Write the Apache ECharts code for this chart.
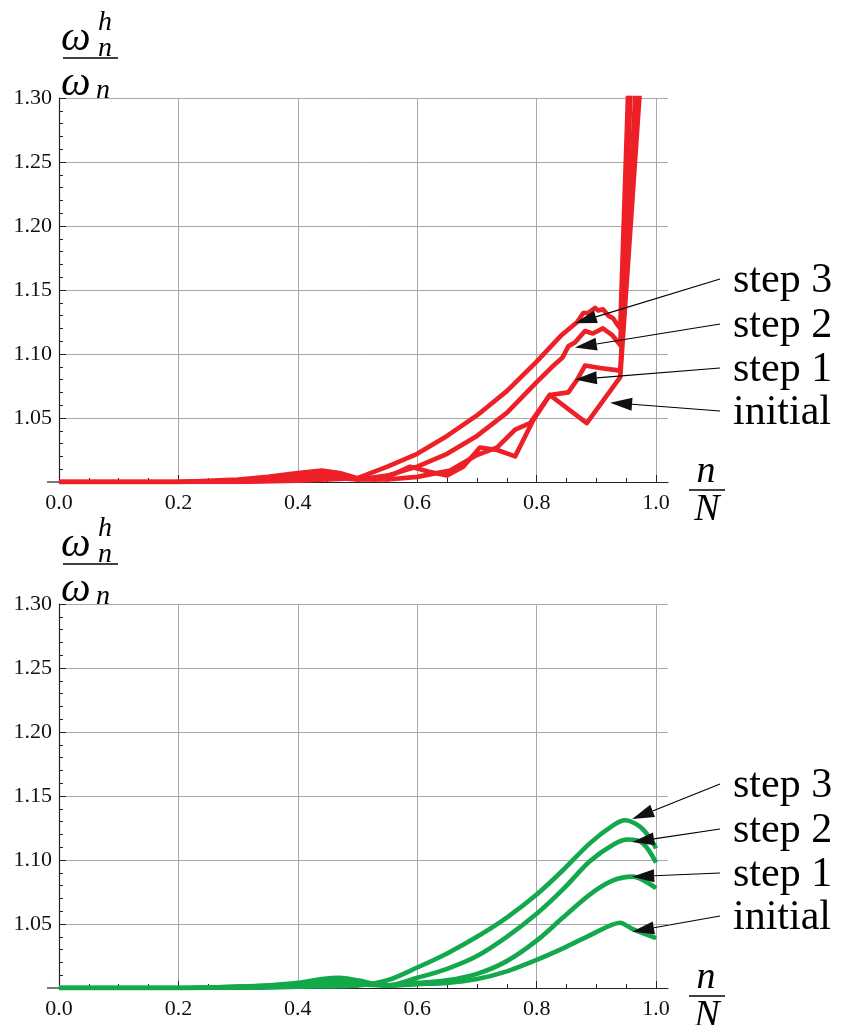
<!DOCTYPE html>
<html>
<head>
<meta charset="utf-8">
<script src="https://cdn.jsdelivr.net/npm/echarts@6/dist/echarts.min.js"></script>
<style>
html, body { margin: 0; padding: 0; background: #fff; }
#chart { width: 842px; height: 1025px; }
</style>
</head>
<body>
<div id="chart"></div>
<script>
// tick labels
var xTicks = [0, 0.2, 0.4, 0.6, 0.8, 1.0];
var labelNames = ['step 3', 'step 2', 'step 1', 'initial'];

// top panel (red), points are [n/N, omega_h/omega]
var redInitial = [[0,1.000],[0.1,1.000],[0.2,1.000],[0.25,1.001],[0.3,1.002],[0.35,1.004],[0.4,1.007],[0.44,1.009],[0.47,1.007],[0.5,1.003],[0.53,1.002],[0.56,1.006],[0.588,1.012],[0.62,1.008],[0.65,1.005],[0.677,1.012],[0.705,1.027],[0.734,1.025],[0.764,1.020],[0.794,1.048],[0.822,1.068],[0.884,1.046],[0.94,1.082],[0.98,1.354]];
var redStep1 = [[0,1.000],[0.1,1.000],[0.2,1.000],[0.3,1.001],[0.35,1.003],[0.4,1.005],[0.44,1.006],[0.47,1.005],[0.5,1.002],[0.55,1.002],[0.6,1.004],[0.655,1.009],[0.70,1.021],[0.734,1.027],[0.764,1.041],[0.789,1.046],[0.822,1.068],[0.853,1.070],[0.868,1.080],[0.881,1.091],[0.906,1.089],[0.94,1.087],[0.97,1.342]];
var redStep2 = [[0,1.000],[0.2,1.000],[0.3,1.001],[0.35,1.002],[0.4,1.003],[0.44,1.004],[0.47,1.003],[0.5,1.002],[0.55,1.005],[0.6,1.012],[0.65,1.022],[0.7,1.036],[0.75,1.054],[0.8,1.078],[0.826,1.090],[0.843,1.097],[0.853,1.106],[0.864,1.109],[0.881,1.118],[0.894,1.116],[0.911,1.120],[0.926,1.115],[0.94,1.107],[0.96,1.334]];
var redStep3 = [[0,1.000],[0.2,1.000],[0.3,1.000],[0.4,1.001],[0.45,1.002],[0.5,1.003],[0.55,1.012],[0.6,1.022],[0.65,1.036],[0.7,1.052],[0.75,1.071],[0.8,1.094],[0.84,1.114],[0.868,1.125],[0.878,1.132],[0.886,1.132],[0.898,1.136],[0.903,1.134],[0.911,1.135],[0.92,1.130],[0.928,1.128],[0.935,1.123],[0.94,1.120],[0.96,1.40]];

// bottom panel (green)
var greenInitial = [[0,1.000],[0.2,1.000],[0.3,1.001],[0.35,1.002],[0.4,1.004],[0.44,1.007],[0.47,1.008],[0.5,1.006],[0.53,1.003],[0.56,1.002],[0.6,1.003],[0.65,1.004],[0.7,1.007],[0.75,1.013],[0.8,1.022],[0.844,1.031],[0.884,1.040],[0.94,1.051],[0.961,1.046],[1.0,1.039]];
var greenStep1 = [[0,1.000],[0.2,1.000],[0.3,1.001],[0.4,1.003],[0.44,1.005],[0.47,1.006],[0.5,1.004],[0.55,1.002],[0.6,1.004],[0.65,1.006],[0.7,1.011],[0.75,1.021],[0.8,1.037],[0.844,1.055],[0.889,1.073],[0.928,1.084],[0.961,1.087],[1.0,1.078]];
var greenStep2 = [[0,1.000],[0.2,1.000],[0.3,1.001],[0.4,1.002],[0.47,1.004],[0.5,1.003],[0.55,1.002],[0.6,1.008],[0.65,1.015],[0.7,1.025],[0.75,1.040],[0.8,1.058],[0.844,1.077],[0.889,1.099],[0.928,1.112],[0.953,1.116],[0.978,1.113],[1.0,1.098]];
var greenStep3 = [[0,1.000],[0.2,1.000],[0.3,1.000],[0.4,1.001],[0.5,1.002],[0.55,1.006],[0.6,1.016],[0.65,1.027],[0.7,1.040],[0.75,1.055],[0.8,1.073],[0.844,1.092],[0.889,1.113],[0.928,1.127],[0.948,1.131],[0.973,1.126],[0.99,1.117],[1.0,1.109]];

// arrow tips (data coords), order as labelNames
var redTips = [[0.864,1.124],[0.864,1.105],[0.864,1.080],[0.923,1.062]];
var greenTips = [[0.960,1.132],[0.960,1.114],[0.960,1.087],[0.960,1.044]];

var RED = '#ed1f27';
var GREEN = '#12a84b';
var SERIF = '"Liberation Serif", "Times New Roman", serif';

var chart = echarts.init(document.getElementById('chart'));

function xAxisFor(gi) {
  return {
    type: 'value', gridIndex: gi, min: 0, max: 1.02, interval: 0.2,
    axisLine: { onZero: false, lineStyle: { color: '#222', width: 1.2 } },
    axisTick: { inside: true, length: 7, customValues: xTicks, lineStyle: { color: '#222' } },
    minorTick: { show: true, splitNumber: 4, length: 4, lineStyle: { color: '#222' } },
    axisLabel: { customValues: xTicks, margin: 10, color: '#111', fontFamily: SERIF, fontSize: 22,
      formatter: function (v) { return v.toFixed(1); } },
    splitLine: { show: true, lineStyle: { width: 1,
      color: ['#a8a8a8','#a8a8a8','#a8a8a8','#a8a8a8','#a8a8a8','#a8a8a8','rgba(0,0,0,0)'] } }
  };
}
function yAxisFor(gi) {
  return {
    type: 'value', gridIndex: gi, min: 1.0, max: 1.3, interval: 0.05,
    axisLine: { show: true, onZero: false, lineStyle: { color: '#222', width: 1.2 } },
    axisTick: { show: true, inside: true, length: 7, lineStyle: { color: '#222' } },
    minorTick: { show: true, splitNumber: 5, length: 4, lineStyle: { color: '#222' } },
    axisLabel: { margin: 7, color: '#111', fontFamily: SERIF, fontSize: 22, showMinLabel: false,
      formatter: function (v) { return v.toFixed(2); } },
    splitLine: { show: true, lineStyle: { color: '#a8a8a8', width: 1 } }
  };
}
function curve(name, data, color, gi, smooth) {
  return {
    name: name, type: 'line', xAxisIndex: gi, yAxisIndex: gi, data: data,
    showSymbol: false, smooth: smooth, clip: true,
    lineStyle: { color: color, width: 4.6, join: 'round' }, z: 3
  };
}

chart.setOption({
  animation: false,
  backgroundColor: '#fff',
  grid: [
    { left: 59, right: 174, top: 98, height: 384 },
    { left: 59, right: 174, top: 604, height: 384 }
  ],
  xAxis: [xAxisFor(0), xAxisFor(1)],
  yAxis: [yAxisFor(0), yAxisFor(1)],
  series: [
    curve('initial', redInitial, RED, 0, false),
    curve('step 1', redStep1, RED, 0, false),
    curve('step 2', redStep2, RED, 0, false),
    curve('step 3', redStep3, RED, 0, false),
    curve('initial', greenInitial, GREEN, 1, 0.25),
    curve('step 1', greenStep1, GREEN, 1, 0.3),
    curve('step 2', greenStep2, GREEN, 1, 0.3),
    curve('step 3', greenStep3, GREEN, 1, 0.3)
  ]
});

function txt(x, y, s, font, align) {
  return { type: 'text', x: x, y: y, z: 10,
    style: { text: s, font: font, fill: '#000', align: align || 'left', textAlign: align || 'left',
      verticalAlign: 'middle', textVerticalAlign: 'middle' } };
}
function bar(x1, x2, y) {
  return { type: 'line', z: 10, shape: { x1: x1, y1: y, x2: x2, y2: y }, style: { stroke: '#000', lineWidth: 1.6 } };
}
function arrow(tail, tip) {
  var dx = tip[0] - tail[0], dy = tip[1] - tail[1];
  var L = Math.sqrt(dx * dx + dy * dy); dx /= L; dy /= L;
  var bx = tip[0] - dx * 22, by = tip[1] - dy * 22;
  var nx = -dy * 6.5, ny = dx * 6.5;
  return [
    { type: 'line', z: 11, shape: { x1: tail[0], y1: tail[1], x2: bx, y2: by }, style: { stroke: '#000', lineWidth: 1.1 } },
    { type: 'polygon', z: 11, shape: { points: [[tip[0], tip[1]], [bx + nx, by + ny], [bx - nx, by - ny]] }, style: { fill: '#111' } }
  ];
}

var els = [];
var omegaFont = 'italic 42px ' + SERIF;
var subFont = 'italic 28px ' + SERIF;
var labelFont = '42px ' + SERIF;
[0, 1].forEach(function (gi) {
  var tl = chart.convertToPixel({ gridIndex: gi }, [0, 1.3]);
  var br = chart.convertToPixel({ gridIndex: gi }, [1.02, 1.0]);
  var gx = tl[0], gy = tl[1], ax = br[0], ay = br[1];
  // axis stub left of the y axis
  els.push({ type: 'line', z: 9, shape: { x1: gx - 12, y1: ay, x2: gx, y2: ay }, style: { stroke: '#222', lineWidth: 1.2 } });
  // y title  omega_n^h / omega_n
  els.push(txt(gx + 2, gy - 59, 'ω', omegaFont));
  els.push(txt(gx + 39, gy - 75, 'h', subFont));
  els.push(txt(gx + 39, gy - 49, 'n', subFont));
  els.push(bar(gx + 4, gx + 59, gy - 40));
  els.push(txt(gx + 2, gy - 14, 'ω', omegaFont));
  els.push(txt(gx + 37, gy - 7, 'n', subFont));
  // x title n / N
  els.push(txt(ax + 38, ay - 10, 'n', 'italic 38px ' + SERIF, 'center'));
  els.push(bar(ax + 21, ax + 57, ay + 8));
  els.push(txt(ax + 39, ay + 28, 'N', 'italic 38px ' + SERIF, 'center'));
  // labels and arrows
  var tips = gi === 0 ? redTips : greenTips;
  var ys = gi === 0 ? [281, 326, 370, 413] : [786, 831, 875, 918];
  for (var i = 0; i < labelNames.length; i++) {
    els.push(txt(733, ys[i], labelNames[i], labelFont));
    var tp = chart.convertToPixel({ gridIndex: gi }, tips[i]);
    els = els.concat(arrow([720, ys[i] - 2], tp));
  }
});
chart.setOption({ graphic: els });
</script>
</body>
</html>
